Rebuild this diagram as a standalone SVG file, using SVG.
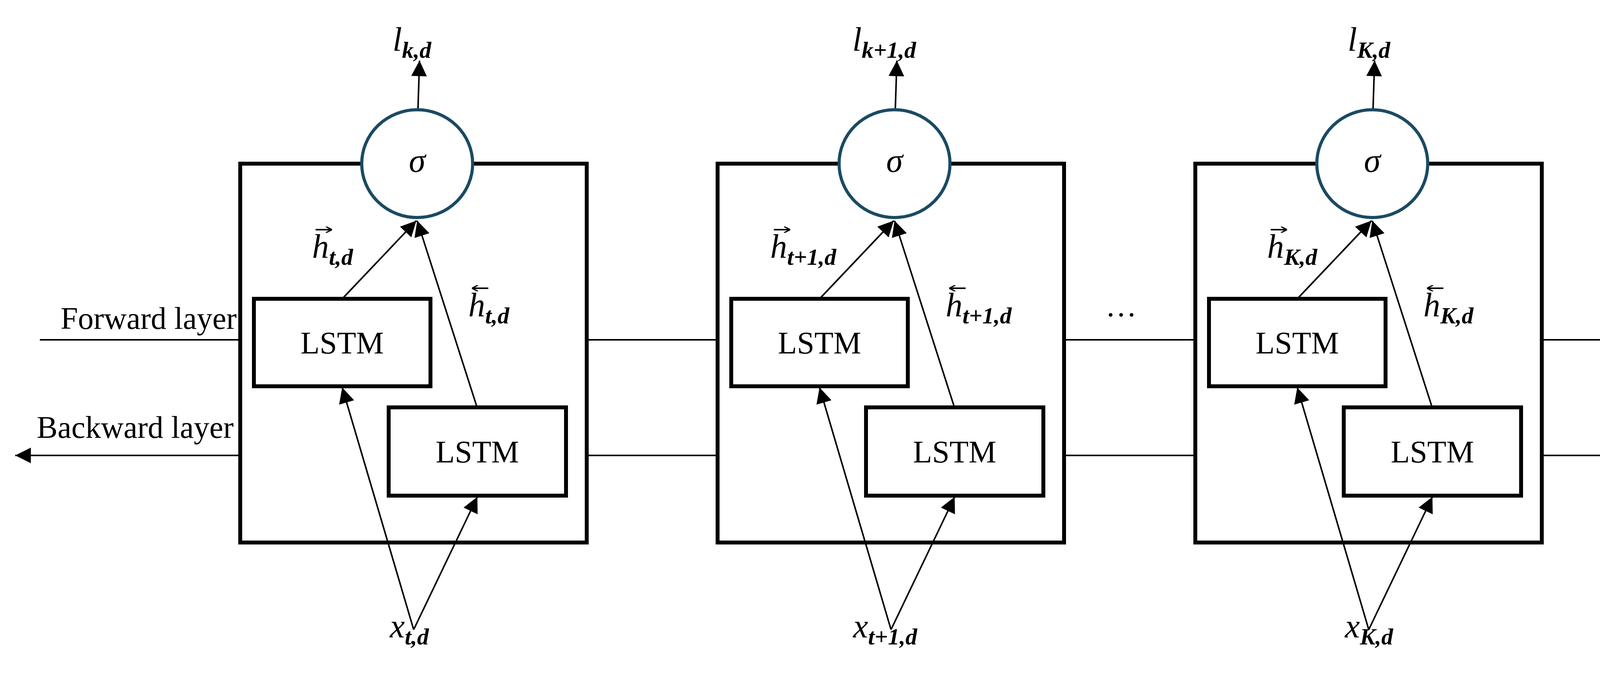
<svg xmlns="http://www.w3.org/2000/svg" width="4293" height="1741" viewBox="0 0 4293 1741">
<defs>
<marker id="ah" viewBox="0 0 10 10" refX="10" refY="5" markerWidth="12" markerHeight="10" orient="auto"><path d="M0,0 L10,5 L0,10 z" fill="#000"/></marker>
<marker id="sm" viewBox="0 0 10 10" refX="10" refY="5" markerWidth="4" markerHeight="4" orient="auto"><path d="M0,0 L10,5 L0,10" fill="none" stroke="#000" stroke-width="2"/></marker>
</defs>
<style>
.box{fill:#fff;stroke:#000;stroke-width:10}
.lstm{fill:#fff;stroke:#000;stroke-width:10}
.sig{fill:#fff;stroke:#1b4a63;stroke-width:8}
.ln{stroke:#000;stroke-width:4;fill:none}
.arr{stroke:#000;stroke-width:4;fill:none;marker-end:url(#ah)}
.vec{stroke:#000;stroke-width:4;fill:none;marker-end:url(#sm)}
.t{font-family:"Liberation Serif",serif;font-size:80px;fill:#000}
.m{font-family:"Liberation Serif",serif;font-style:italic;font-size:86px;fill:#000}
.s{font-size:60px;font-weight:bold}
</style>
<rect width="4293" height="1741" fill="#fff"/>
<g id="connectors">
<line class="ln" x1="102" y1="870" x2="615" y2="870"/>
<line class="arr" x1="615" y1="1166" x2="39" y2="1166"/>
<line class="ln" x1="1502" y1="870" x2="1837" y2="870"/>
<line class="ln" x1="1502" y1="1166" x2="1837" y2="1166"/>
<line class="ln" x1="2724" y1="870" x2="3060" y2="870"/>
<line class="ln" x1="2724" y1="1166" x2="3060" y2="1166"/>
<line class="arr" x1="3947" y1="870" x2="4233" y2="870"/>
<line class="ln" x1="3947" y1="1166" x2="4233" y2="1166"/>
</g>
<g id="labels">
<text class="t" x="155" y="842">Forward layer</text>
<text class="t" x="94" y="1121">Backward layer</text>
<text class="t" x="2870" y="810" text-anchor="middle">…</text>
</g>
<g id="block1">
<g id="box1"><rect class="box" x="615" y="419" width="887" height="970"/></g>
<g id="fwd1"><rect class="lstm" x="650" y="765" width="452" height="224"/><text class="t" x="876" y="905" text-anchor="middle">LSTM</text></g>
<g id="bwd1"><rect class="lstm" x="995" y="1043" width="454" height="226"/><text class="t" x="1222" y="1184" text-anchor="middle">LSTM</text></g>
<g id="edges1">
<line class="arr" x1="1070" y1="279" x2="1074" y2="155"/>
<line class="arr" x1="879" y1="762" x2="1066" y2="565"/>
<line class="arr" x1="1221" y1="1042" x2="1068" y2="565"/>
<line class="arr" x1="1059" y1="1612" x2="876" y2="992"/>
<line class="arr" x1="1059" y1="1612" x2="1222" y2="1272"/>
</g>
<g id="sig1"><ellipse class="sig" cx="1068" cy="419" rx="142" ry="138"/><text class="m" x="1068" y="440" text-anchor="middle">σ</text></g>
<text class="m" x="1005" y="130">l<tspan class="s" dy="18">k,d</tspan></text>
<line class="vec" x1="808" y1="588" x2="850" y2="588"/><text class="m" x="799" y="660">h<tspan class="s" dy="18">t,d</tspan></text>
<line class="vec" x1="1250" y1="738" x2="1208" y2="738"/><text class="m" x="1199" y="810">h<tspan class="s" dy="18">t,d</tspan></text>
<text class="m" x="998" y="1632">x<tspan class="s" dy="18">t,d</tspan></text>
</g>
<g id="block2" transform="translate(1222,0)">
<g id="box2"><rect class="box" x="615" y="419" width="887" height="970"/></g>
<g id="fwd2"><rect class="lstm" x="650" y="765" width="452" height="224"/><text class="t" x="876" y="905" text-anchor="middle">LSTM</text></g>
<g id="bwd2"><rect class="lstm" x="995" y="1043" width="454" height="226"/><text class="t" x="1222" y="1184" text-anchor="middle">LSTM</text></g>
<g id="edges2">
<line class="arr" x1="1070" y1="279" x2="1074" y2="155"/>
<line class="arr" x1="879" y1="762" x2="1066" y2="565"/>
<line class="arr" x1="1221" y1="1042" x2="1068" y2="565"/>
<line class="arr" x1="1059" y1="1612" x2="876" y2="992"/>
<line class="arr" x1="1059" y1="1612" x2="1222" y2="1272"/>
</g>
<g id="sig2"><ellipse class="sig" cx="1068" cy="419" rx="142" ry="138"/><text class="m" x="1068" y="440" text-anchor="middle">σ</text></g>
<text class="m" x="960" y="130">l<tspan class="s" dy="18">k+1,d</tspan></text>
<line class="vec" x1="759" y1="588" x2="801" y2="588"/><text class="m" x="750" y="660">h<tspan class="s" dy="18">t+1,d</tspan></text>
<line class="vec" x1="1250" y1="738" x2="1208" y2="738"/><text class="m" x="1199" y="810">h<tspan class="s" dy="18">t+1,d</tspan></text>
<text class="m" x="962" y="1632">x<tspan class="s" dy="18">t+1,d</tspan></text>
</g>
<g id="block3" transform="translate(2445,0)">
<g id="box3"><rect class="box" x="615" y="419" width="887" height="970"/></g>
<g id="fwd3"><rect class="lstm" x="650" y="765" width="452" height="224"/><text class="t" x="876" y="905" text-anchor="middle">LSTM</text></g>
<g id="bwd3"><rect class="lstm" x="995" y="1043" width="454" height="226"/><text class="t" x="1222" y="1184" text-anchor="middle">LSTM</text></g>
<g id="edges3">
<line class="arr" x1="1070" y1="279" x2="1074" y2="155"/>
<line class="arr" x1="879" y1="762" x2="1066" y2="565"/>
<line class="arr" x1="1221" y1="1042" x2="1068" y2="565"/>
<line class="arr" x1="1059" y1="1612" x2="876" y2="992"/>
<line class="arr" x1="1059" y1="1612" x2="1222" y2="1272"/>
</g>
<g id="sig3"><ellipse class="sig" cx="1068" cy="419" rx="142" ry="138"/><text class="m" x="1068" y="440" text-anchor="middle">σ</text></g>
<text class="m" x="1005" y="130">l<tspan class="s" dy="18">K,d</tspan></text>
<line class="vec" x1="808" y1="588" x2="850" y2="588"/><text class="m" x="799" y="660">h<tspan class="s" dy="18">K,d</tspan></text>
<line class="vec" x1="1250" y1="738" x2="1208" y2="738"/><text class="m" x="1199" y="810">h<tspan class="s" dy="18">K,d</tspan></text>
<text class="m" x="998" y="1632">x<tspan class="s" dy="18">K,d</tspan></text>
</g>
</svg>
